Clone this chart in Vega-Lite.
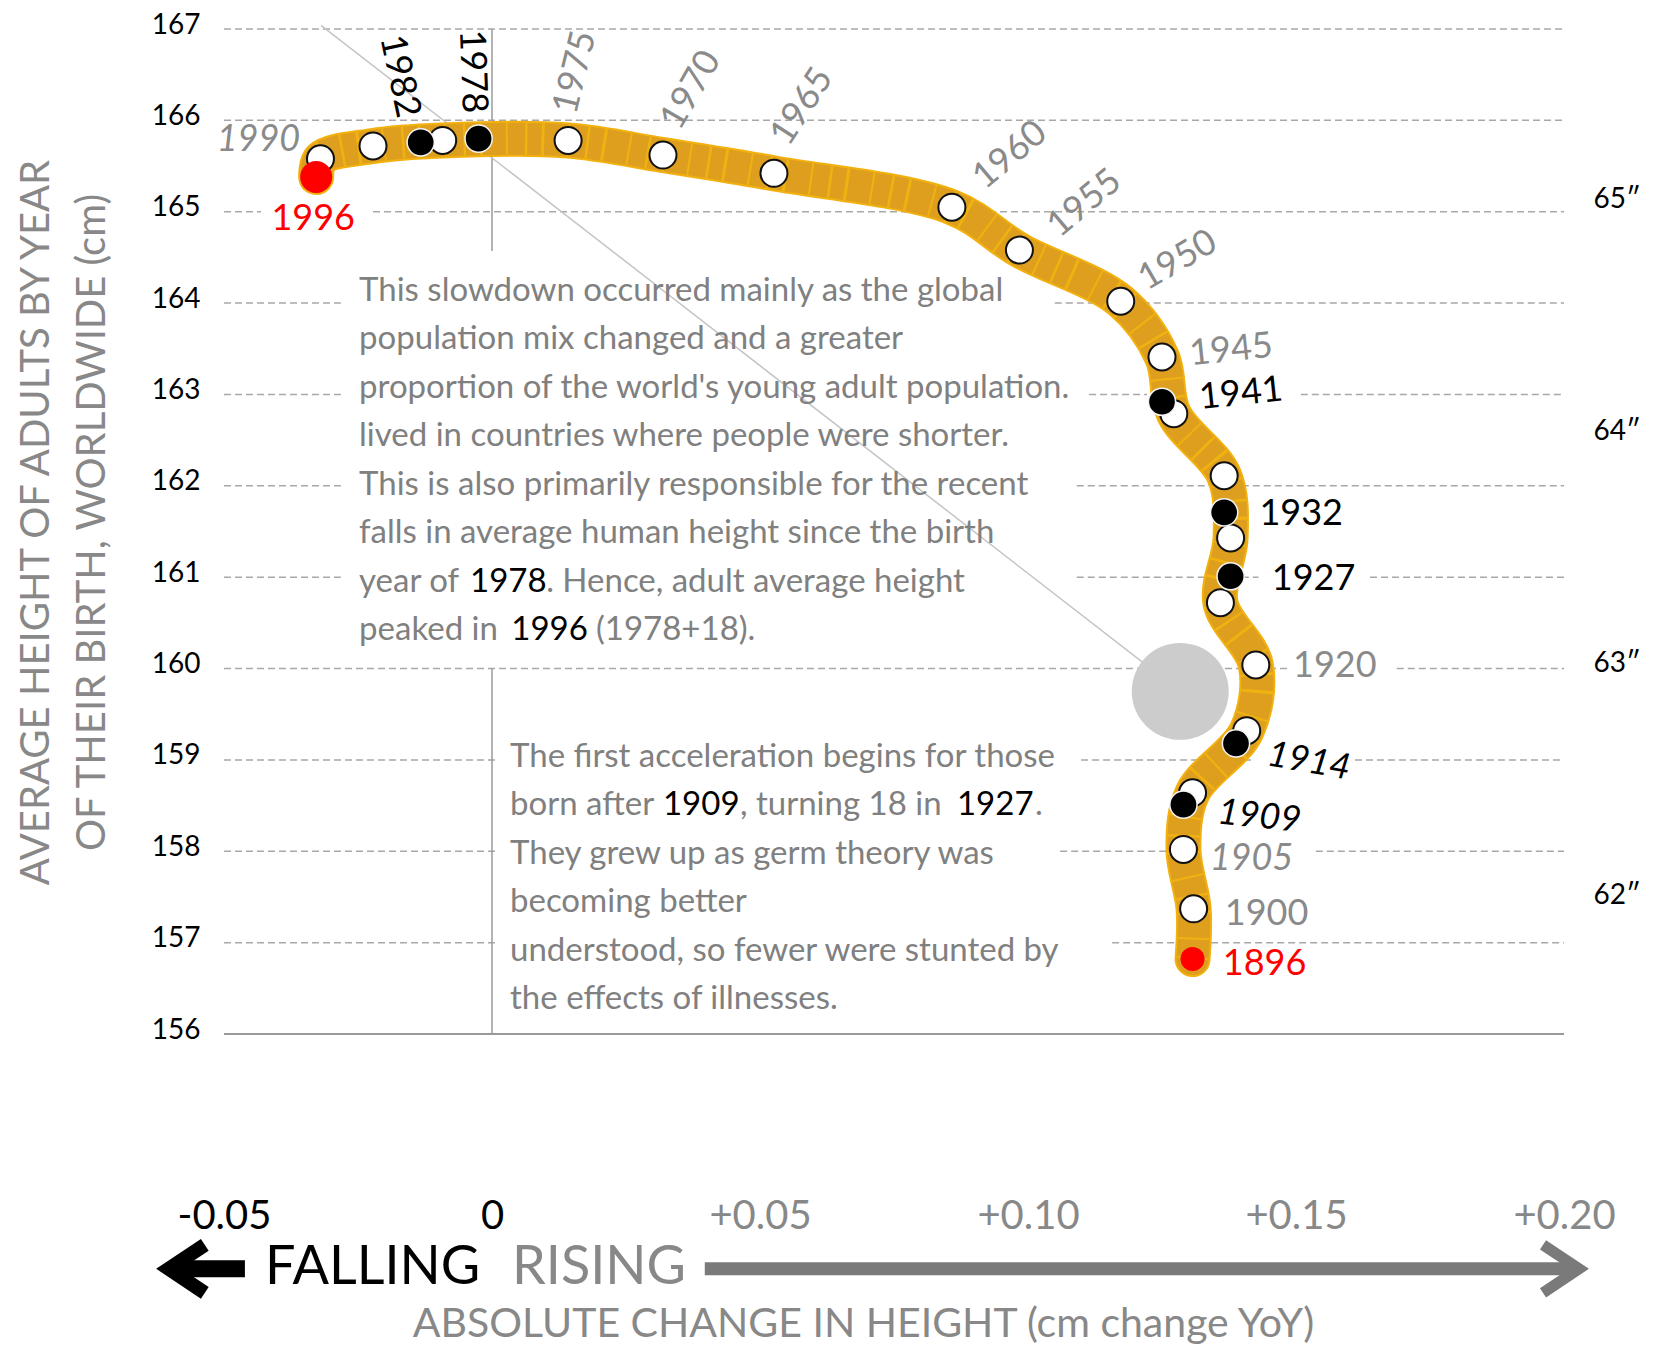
{
  "$schema": "https://vega.github.io/schema/vega-lite/v6.json",
  "width": 1340,
  "height": 1005,
  "autosize": {"type": "none"},
  "padding": {"left": 224, "top": 29, "right": 91, "bottom": 311},
  "background": "white",
  "config": {"view": {"stroke": null}, "font": "Lato"},
  "datasets": {
    "cohorts": [
      {"year": 1896, "change": 0.1307, "height": 156.82, "kind": "endpoint"},
      {"year": 1900, "change": 0.1309, "height": 157.37, "kind": "milestone"},
      {"year": 1905, "change": 0.1290, "height": 158.02, "kind": "milestone"},
      {"year": 1909, "change": 0.1290, "height": 158.51, "kind": "highlight"},
      {"year": 1910, "change": 0.1307, "height": 158.64, "kind": "milestone"},
      {"year": 1914, "change": 0.1388, "height": 159.18, "kind": "highlight"},
      {"year": 1915, "change": 0.1408, "height": 159.32, "kind": "milestone"},
      {"year": 1920, "change": 0.1425, "height": 160.04, "kind": "milestone"},
      {"year": 1925, "change": 0.1359, "height": 160.72, "kind": "milestone"},
      {"year": 1927, "change": 0.1378, "height": 161.01, "kind": "highlight"},
      {"year": 1930, "change": 0.1378, "height": 161.43, "kind": "milestone"},
      {"year": 1932, "change": 0.1366, "height": 161.71, "kind": "highlight"},
      {"year": 1935, "change": 0.1366, "height": 162.11, "kind": "milestone"},
      {"year": 1940, "change": 0.1272, "height": 162.79, "kind": "milestone"},
      {"year": 1941, "change": 0.1250, "height": 162.92, "kind": "highlight"},
      {"year": 1945, "change": 0.1250, "height": 163.41, "kind": "milestone"},
      {"year": 1950, "change": 0.1173, "height": 164.02, "kind": "milestone"},
      {"year": 1955, "change": 0.0984, "height": 164.58, "kind": "milestone"},
      {"year": 1960, "change": 0.0858, "height": 165.05, "kind": "milestone"},
      {"year": 1965, "change": 0.0526, "height": 165.42, "kind": "milestone"},
      {"year": 1970, "change": 0.0319, "height": 165.62, "kind": "milestone"},
      {"year": 1975, "change": 0.0142, "height": 165.78, "kind": "milestone"},
      {"year": 1978, "change": -0.0025, "height": 165.80, "kind": "highlight"},
      {"year": 1980, "change": -0.0092, "height": 165.78, "kind": "milestone"},
      {"year": 1982, "change": -0.0133, "height": 165.76, "kind": "highlight"},
      {"year": 1985, "change": -0.0222, "height": 165.72, "kind": "milestone"},
      {"year": 1990, "change": -0.0320, "height": 165.58, "kind": "milestone"},
      {"year": 1996, "change": -0.0328, "height": 165.38, "kind": "endpoint"}
    ],
    "grid": [
      {"cm": 167, "from": -0.05, "to": 0.2},
      {"cm": 166, "from": -0.05, "to": 0.2},
      {"cm": 165, "from": -0.05, "to": -0.0431},
      {"cm": 165, "from": -0.0222, "to": 0.2},
      {"cm": 164, "from": -0.05, "to": -0.0282},
      {"cm": 164, "from": 0.105, "to": 0.2},
      {"cm": 163, "from": -0.05, "to": -0.0282},
      {"cm": 163, "from": 0.1114, "to": 0.1222},
      {"cm": 163, "from": 0.1509, "to": 0.2},
      {"cm": 162, "from": -0.05, "to": -0.0282},
      {"cm": 162, "from": 0.1091, "to": 0.2},
      {"cm": 161, "from": -0.05, "to": -0.0282},
      {"cm": 161, "from": 0.1091, "to": 0.143},
      {"cm": 161, "from": 0.1638, "to": 0.2},
      {"cm": 160, "from": -0.05, "to": 0.1487},
      {"cm": 160, "from": 0.1688, "to": 0.2},
      {"cm": 159, "from": -0.05, "to": 0.0007},
      {"cm": 159, "from": 0.1099, "to": 0.1416},
      {"cm": 159, "from": 0.161, "to": 0.2},
      {"cm": 158, "from": -0.05, "to": 0.0007},
      {"cm": 158, "from": 0.106, "to": 0.1265},
      {"cm": 158, "from": 0.1537, "to": 0.2},
      {"cm": 157, "from": -0.05, "to": 0.0007},
      {"cm": 157, "from": 0.1157, "to": 0.2}
    ],
    "inches": [
      {"inch": "65″", "cm": 165.1},
      {"inch": "64″", "cm": 162.56},
      {"inch": "63″", "cm": 160.02},
      {"inch": "62″", "cm": 157.48}
    ]
  },
  "data": {"name": "cohorts"},
  "layer": [
    {
      "transform": [{"filter": "datum.kind == 'milestone'"}],
      "mark": {"type": "point", "shape": "circle", "filled": true, "fill": "white", "opacity": 0, "size": 729},
      "encoding": {
        "x": {
          "field": "change", "type": "quantitative",
          "scale": {"domain": [-0.05, 0.2], "nice": false, "zero": false},
          "axis": {
            "values": [-0.05, 0, 0.05, 0.1, 0.15, 0.2],
            "labelExpr": "datum.value == 0 ? '0' : (datum.value > 0 ? '+' : '-') + format(abs(datum.value), '.2f')",
            "labelFont": "Lato", "labelFontSize": 40,
            "labelColor": {"condition": {"test": "datum.value <= 0", "value": "#000000"}, "value": "#888888"},
            "labelPadding": 182, "labelBaseline": "middle",
            "ticks": false, "tickSize": 0, "domain": false, "grid": false,
            "labelFlush": false, "labelOverlap": false, "labelBound": false,
            "title": "ABSOLUTE CHANGE IN HEIGHT (cm change YoY)",
            "titleFont": "Lato", "titleFontSize": 41, "titleFontWeight": "normal", "titleColor": "#888888",
            "titleX": 639, "titleY": 290, "titleBaseline": "middle", "titleAlign": "center"
          }
        },
        "y": {
          "field": "height", "type": "quantitative",
          "scale": {"domain": [156, 167], "nice": false, "zero": false},
          "axis": {
            "values": [156, 157, 158, 159, 160, 161, 162, 163, 164, 165, 166, 167],
            "format": "d",
            "labelFont": "Lato", "labelFontSize": 28, "labelColor": "#000000",
            "labelPadding": 24, "labelOffset": -4, "labelBaseline": "middle",
            "ticks": false, "tickSize": 0, "domain": false, "grid": false,
            "title": ["AVERAGE HEIGHT OF ADULTS BY YEAR", "OF THEIR BIRTH, WORLDWIDE (cm)"],
            "titleFont": "Lato", "titleFontSize": 40, "titleFontWeight": "normal", "titleColor": "#888888",
            "titleLineHeight": 56, "titleX": -208, "titleY": 493, "titleAngle": -90,
            "titleBaseline": "top", "titleAlign": "center"
          }
        }
      }
    },
    {
      "data": {"name": "grid"},
      "mark": {"type": "rule", "color": "#a8a8a8", "strokeWidth": 1.5, "strokeDash": [7, 4]},
      "encoding": {
        "x": {"field": "from", "type": "quantitative"},
        "x2": {"field": "to"},
        "y": {"field": "cm", "type": "quantitative"}
      }
    },
    {
      "data": {"values": [{}]},
      "mark": {"type": "rule", "color": "#999999", "strokeWidth": 2},
      "encoding": {
        "x": {"datum": -0.05, "type": "quantitative"},
        "x2": {"datum": 0.2},
        "y": {"datum": 156, "type": "quantitative"}
      }
    },
    {
      "data": {"values": [{}]},
      "mark": {"type": "rule", "color": "#9a9a9a", "strokeWidth": 1.5},
      "encoding": {
        "x": {"datum": 0, "type": "quantitative"},
        "y": {"datum": 167, "type": "quantitative"},
        "y2": {"datum": 164.57}
      }
    },
    {
      "data": {"values": [{}]},
      "mark": {"type": "rule", "color": "#9a9a9a", "strokeWidth": 1.5},
      "encoding": {
        "x": {"datum": 0, "type": "quantitative"},
        "y": {"datum": 160, "type": "quantitative"},
        "y2": {"datum": 156}
      }
    },
    {
      "data": {"values": [{}]},
      "mark": {"type": "rule", "color": "#c4c4c4", "strokeWidth": 1.5},
      "encoding": {
        "x": {"datum": -0.0319, "type": "quantitative"},
        "y": {"datum": 167.04, "type": "quantitative"},
        "x2": {"datum": 0.1284},
        "y2": {"datum": 159.75}
      }
    },
    {
      "data": {"values": [{}]},
      "mark": {"type": "point", "shape": "circle", "filled": true, "color": "#cccccc", "opacity": 1, "size": 9400},
      "encoding": {
        "x": {"datum": 0.1284, "type": "quantitative"},
        "y": {"datum": 159.75, "type": "quantitative"}
      }
    },
    {
      "transform": [{"filter": "datum.kind != 'highlight'"}],
      "mark": {"type": "line", "interpolate": "catmull-rom", "strokeWidth": 36, "color": "#F2B10E", "strokeCap": "round", "strokeJoin": "round"},
      "encoding": {
        "x": {"field": "change", "type": "quantitative"},
        "y": {"field": "height", "type": "quantitative"},
        "order": {"field": "year", "type": "quantitative"}
      }
    },
    {
      "transform": [{"filter": "datum.kind != 'highlight'"}],
      "mark": {"type": "line", "interpolate": "catmull-rom", "strokeWidth": 32, "color": "#DE9F1F", "strokeCap": "round", "strokeJoin": "round"},
      "encoding": {
        "x": {"field": "change", "type": "quantitative"},
        "y": {"field": "height", "type": "quantitative"},
        "order": {"field": "year", "type": "quantitative"}
      }
    },
    {
      "transform": [{"filter": "datum.kind != 'highlight'"}],
      "mark": {"type": "line", "interpolate": "catmull-rom", "strokeWidth": 32, "color": "#F5B80C", "opacity": 0.75, "strokeDash": [2.5, 17, 2, 23, 3, 14], "strokeCap": "butt"},
      "encoding": {
        "x": {"field": "change", "type": "quantitative"},
        "y": {"field": "height", "type": "quantitative"},
        "order": {"field": "year", "type": "quantitative"}
      }
    },
    {
      "transform": [{"filter": "datum.kind == 'milestone'"}],
      "mark": {"type": "point", "shape": "circle", "filled": true, "fill": "white", "stroke": "#111111", "strokeWidth": 2, "opacity": 1, "size": 729},
      "encoding": {
        "x": {"field": "change", "type": "quantitative"},
        "y": {"field": "height", "type": "quantitative"}
      }
    },
    {
      "transform": [{"filter": "datum.kind == 'highlight'"}],
      "mark": {"type": "point", "shape": "circle", "filled": true, "fill": "black", "stroke": "#f4f4f4", "strokeWidth": 1.5, "opacity": 1, "size": 740},
      "encoding": {
        "x": {"field": "change", "type": "quantitative"},
        "y": {"field": "height", "type": "quantitative"}
      }
    },
    {
      "transform": [{"filter": "datum.kind == 'endpoint'"}],
      "mark": {"type": "point", "shape": "circle", "filled": true, "fill": "#ff0000", "opacity": 1},
      "encoding": {
        "x": {"field": "change", "type": "quantitative"},
        "y": {"field": "height", "type": "quantitative"},
        "size": {"condition": {"test": "datum.year == 1996", "value": 1024}, "value": 576}
      }
    },
    {
      "transform": [{"filter": "datum.year == 1996"}],
      "mark": {"type": "text", "fontSize": 36, "fill": "#ff0000", "align": "center", "baseline": "middle", "dx": -3, "dy": 42},
      "encoding": {
        "x": {"field": "change", "type": "quantitative"},
        "y": {"field": "height", "type": "quantitative"},
        "text": {"field": "year", "type": "nominal"}
      }
    },
    {
      "transform": [{"filter": "datum.year == 1896"}],
      "mark": {"type": "text", "fontSize": 36, "fill": "#ff0000", "align": "center", "baseline": "middle", "dx": 72, "dy": 5},
      "encoding": {
        "x": {"field": "change", "type": "quantitative"},
        "y": {"field": "height", "type": "quantitative"},
        "text": {"field": "year", "type": "nominal"}
      }
    },
    {
      "transform": [{"filter": "datum.year == 1990"}],
      "mark": {"type": "text", "fontSize": 36, "fontStyle": "italic", "fill": "#8a8a8a", "align": "center", "baseline": "middle", "dx": -62, "dy": -19},
      "encoding": {
        "x": {"field": "change", "type": "quantitative"},
        "y": {"field": "height", "type": "quantitative"},
        "text": {"field": "year", "type": "nominal"}
      }
    },
    {
      "transform": [{"filter": "datum.year == 1982"}],
      "mark": {"type": "text", "fontSize": 36, "fill": "#000000", "align": "center", "baseline": "middle", "angle": 78, "dx": -68.9, "dy": 6.8},
      "encoding": {
        "x": {"field": "change", "type": "quantitative"},
        "y": {"field": "height", "type": "quantitative"},
        "text": {"field": "year", "type": "nominal"}
      }
    },
    {
      "transform": [{"filter": "datum.year == 1978"}],
      "mark": {"type": "text", "fontSize": 36, "fill": "#000000", "align": "center", "baseline": "middle", "angle": 88, "dx": -67.2, "dy": 3.7},
      "encoding": {
        "x": {"field": "change", "type": "quantitative"},
        "y": {"field": "height", "type": "quantitative"},
        "text": {"field": "year", "type": "nominal"}
      }
    },
    {
      "transform": [{"filter": "datum.year == 1975"}],
      "mark": {"type": "text", "fontSize": 36, "fill": "#8a8a8a", "align": "center", "baseline": "middle", "angle": -76, "dx": 67.7, "dy": -9.7},
      "encoding": {
        "x": {"field": "change", "type": "quantitative"},
        "y": {"field": "height", "type": "quantitative"},
        "text": {"field": "year", "type": "nominal"}
      }
    },
    {
      "transform": [{"filter": "datum.year == 1970"}],
      "mark": {"type": "text", "fontSize": 36, "fill": "#8a8a8a", "align": "center", "baseline": "middle", "angle": -60, "dx": 70.3, "dy": -8.3},
      "encoding": {
        "x": {"field": "change", "type": "quantitative"},
        "y": {"field": "height", "type": "quantitative"},
        "text": {"field": "year", "type": "nominal"}
      }
    },
    {
      "transform": [{"filter": "datum.year == 1965"}],
      "mark": {"type": "text", "fontSize": 36, "fill": "#8a8a8a", "align": "center", "baseline": "middle", "angle": -57, "dx": 71.4, "dy": -13},
      "encoding": {
        "x": {"field": "change", "type": "quantitative"},
        "y": {"field": "height", "type": "quantitative"},
        "text": {"field": "year", "type": "nominal"}
      }
    },
    {
      "transform": [{"filter": "datum.year == 1960"}],
      "mark": {"type": "text", "fontSize": 36, "fill": "#8a8a8a", "align": "center", "baseline": "middle", "angle": -40, "dx": 77.9, "dy": -2.6},
      "encoding": {
        "x": {"field": "change", "type": "quantitative"},
        "y": {"field": "height", "type": "quantitative"},
        "text": {"field": "year", "type": "nominal"}
      }
    },
    {
      "transform": [{"filter": "datum.year == 1955"}],
      "mark": {"type": "text", "fontSize": 36, "fill": "#8a8a8a", "align": "center", "baseline": "middle", "angle": -40, "dx": 80, "dy": 5.8},
      "encoding": {
        "x": {"field": "change", "type": "quantitative"},
        "y": {"field": "height", "type": "quantitative"},
        "text": {"field": "year", "type": "nominal"}
      }
    },
    {
      "transform": [{"filter": "datum.year == 1950"}],
      "mark": {"type": "text", "fontSize": 36, "fill": "#8a8a8a", "align": "center", "baseline": "middle", "angle": -30, "dx": 69.9, "dy": -7},
      "encoding": {
        "x": {"field": "change", "type": "quantitative"},
        "y": {"field": "height", "type": "quantitative"},
        "text": {"field": "year", "type": "nominal"}
      }
    },
    {
      "transform": [{"filter": "datum.year == 1945"}],
      "mark": {"type": "text", "fontSize": 36, "fill": "#8a8a8a", "align": "center", "baseline": "middle", "angle": -6, "dx": 69.4, "dy": 0.3},
      "encoding": {
        "x": {"field": "change", "type": "quantitative"},
        "y": {"field": "height", "type": "quantitative"},
        "text": {"field": "year", "type": "nominal"}
      }
    },
    {
      "transform": [{"filter": "datum.year == 1941"}],
      "mark": {"type": "text", "fontSize": 36, "fill": "#000000", "align": "center", "baseline": "middle", "angle": -6, "dx": 79.4, "dy": 0.3},
      "encoding": {
        "x": {"field": "change", "type": "quantitative"},
        "y": {"field": "height", "type": "quantitative"},
        "text": {"field": "year", "type": "nominal"}
      }
    },
    {
      "transform": [{"filter": "datum.year == 1932"}],
      "mark": {"type": "text", "fontSize": 36, "fill": "#000000", "align": "center", "baseline": "middle", "dx": 77, "dy": 2},
      "encoding": {
        "x": {"field": "change", "type": "quantitative"},
        "y": {"field": "height", "type": "quantitative"},
        "text": {"field": "year", "type": "nominal"}
      }
    },
    {
      "transform": [{"filter": "datum.year == 1927"}],
      "mark": {"type": "text", "fontSize": 36, "fill": "#000000", "align": "center", "baseline": "middle", "dx": 83, "dy": 3},
      "encoding": {
        "x": {"field": "change", "type": "quantitative"},
        "y": {"field": "height", "type": "quantitative"},
        "text": {"field": "year", "type": "nominal"}
      }
    },
    {
      "transform": [{"filter": "datum.year == 1920"}],
      "mark": {"type": "text", "fontSize": 36, "fill": "#8a8a8a", "align": "center", "baseline": "middle", "dx": 79, "dy": 1},
      "encoding": {
        "x": {"field": "change", "type": "quantitative"},
        "y": {"field": "height", "type": "quantitative"},
        "text": {"field": "year", "type": "nominal"}
      }
    },
    {
      "transform": [{"filter": "datum.year == 1914"}],
      "mark": {"type": "text", "fontSize": 36, "fontStyle": "italic", "fill": "#000000", "align": "center", "baseline": "middle", "angle": 10, "dx": 75, "dy": 5.1},
      "encoding": {
        "x": {"field": "change", "type": "quantitative"},
        "y": {"field": "height", "type": "quantitative"},
        "text": {"field": "year", "type": "nominal"}
      }
    },
    {
      "transform": [{"filter": "datum.year == 1909"}],
      "mark": {"type": "text", "fontSize": 36, "fontStyle": "italic", "fill": "#000000", "align": "center", "baseline": "middle", "angle": 6, "dx": 76.8, "dy": 4},
      "encoding": {
        "x": {"field": "change", "type": "quantitative"},
        "y": {"field": "height", "type": "quantitative"},
        "text": {"field": "year", "type": "nominal"}
      }
    },
    {
      "transform": [{"filter": "datum.year == 1905"}],
      "mark": {"type": "text", "fontSize": 36, "fontStyle": "italic", "fill": "#8a8a8a", "align": "center", "baseline": "middle", "dx": 68, "dy": 10},
      "encoding": {
        "x": {"field": "change", "type": "quantitative"},
        "y": {"field": "height", "type": "quantitative"},
        "text": {"field": "year", "type": "nominal"}
      }
    },
    {
      "transform": [{"filter": "datum.year == 1900"}],
      "mark": {"type": "text", "fontSize": 36, "fill": "#8a8a8a", "align": "center", "baseline": "middle", "dx": 73, "dy": 5},
      "encoding": {
        "x": {"field": "change", "type": "quantitative"},
        "y": {"field": "height", "type": "quantitative"},
        "text": {"field": "year", "type": "nominal"}
      }
    },
    {
      "data": {"name": "inches"},
      "mark": {"type": "text", "fontSize": 28, "fill": "#000000", "align": "center", "baseline": "middle", "dy": -3},
      "encoding": {
        "x": {"datum": 0.2099, "type": "quantitative"},
        "y": {"field": "cm", "type": "quantitative"},
        "text": {"field": "inch", "type": "nominal"}
      }
    },
    {
      "data": {"values": [{}]},
      "mark": {"type": "text", "fontSize": 33, "fill": "#808080", "align": "left", "baseline": "alphabetic", "lineHeight": 48.5,
        "text": ["This slowdown occurred mainly as the global", "population mix changed and a greater", "proportion of the world's young adult population.", "lived in countries where people were shorter.", "This is also primarily responsible for the recent", "falls in average human height since the birth"]},
      "encoding": {
        "x": {"datum": -0.0248, "type": "quantitative"},
        "y": {"datum": 164.026, "type": "quantitative"}
      }
    },
    {
      "data": {"values": [{}]},
      "mark": {"type": "text", "fontSize": 33, "fill": "#808080", "align": "left", "baseline": "alphabetic", "text": "year of"},
      "encoding": {
        "x": {"datum": -0.0248, "type": "quantitative"},
        "y": {"datum": 160.841, "type": "quantitative"}
      }
    },
    {
      "data": {"values": [{}]},
      "mark": {"type": "text", "fontSize": 33, "fill": "#000000", "align": "left", "baseline": "alphabetic", "text": "1978"},
      "encoding": {
        "x": {"datum": -0.0041, "type": "quantitative"},
        "y": {"datum": 160.841, "type": "quantitative"}
      }
    },
    {
      "data": {"values": [{}]},
      "mark": {"type": "text", "fontSize": 33, "fill": "#808080", "align": "left", "baseline": "alphabetic", "text": ". Hence, adult average height"},
      "encoding": {
        "x": {"datum": 0.0101, "type": "quantitative"},
        "y": {"datum": 160.841, "type": "quantitative"}
      }
    },
    {
      "data": {"values": [{}]},
      "mark": {"type": "text", "fontSize": 33, "fill": "#808080", "align": "left", "baseline": "alphabetic", "text": "peaked in"},
      "encoding": {
        "x": {"datum": -0.0248, "type": "quantitative"},
        "y": {"datum": 160.31, "type": "quantitative"}
      }
    },
    {
      "data": {"values": [{}]},
      "mark": {"type": "text", "fontSize": 33, "fill": "#000000", "align": "left", "baseline": "alphabetic", "text": "1996"},
      "encoding": {
        "x": {"datum": 0.0036, "type": "quantitative"},
        "y": {"datum": 160.31, "type": "quantitative"}
      }
    },
    {
      "data": {"values": [{}]},
      "mark": {"type": "text", "fontSize": 33, "fill": "#808080", "align": "left", "baseline": "alphabetic", "text": "(1978+18)."},
      "encoding": {
        "x": {"datum": 0.0194, "type": "quantitative"},
        "y": {"datum": 160.31, "type": "quantitative"}
      }
    },
    {
      "data": {"values": [{}]},
      "mark": {"type": "text", "fontSize": 33, "fill": "#808080", "align": "left", "baseline": "alphabetic", "text": "The first acceleration begins for those"},
      "encoding": {
        "x": {"datum": 0.00336, "type": "quantitative"},
        "y": {"datum": 158.925, "type": "quantitative"}
      }
    },
    {
      "data": {"values": [{}]},
      "mark": {"type": "text", "fontSize": 33, "fill": "#808080", "align": "left", "baseline": "alphabetic", "text": "born after"},
      "encoding": {
        "x": {"datum": 0.00336, "type": "quantitative"},
        "y": {"datum": 158.394, "type": "quantitative"}
      }
    },
    {
      "data": {"values": [{}]},
      "mark": {"type": "text", "fontSize": 33, "fill": "#000000", "align": "left", "baseline": "alphabetic", "text": "1909"},
      "encoding": {
        "x": {"datum": 0.0319, "type": "quantitative"},
        "y": {"datum": 158.394, "type": "quantitative"}
      }
    },
    {
      "data": {"values": [{}]},
      "mark": {"type": "text", "fontSize": 33, "fill": "#808080", "align": "left", "baseline": "alphabetic", "text": ", turning 18 in"},
      "encoding": {
        "x": {"datum": 0.04627, "type": "quantitative"},
        "y": {"datum": 158.394, "type": "quantitative"}
      }
    },
    {
      "data": {"values": [{}]},
      "mark": {"type": "text", "fontSize": 33, "fill": "#000000", "align": "left", "baseline": "alphabetic", "text": "1927"},
      "encoding": {
        "x": {"datum": 0.08675, "type": "quantitative"},
        "y": {"datum": 158.394, "type": "quantitative"}
      }
    },
    {
      "data": {"values": [{}]},
      "mark": {"type": "text", "fontSize": 33, "fill": "#808080", "align": "left", "baseline": "alphabetic", "text": "."},
      "encoding": {
        "x": {"datum": 0.10131, "type": "quantitative"},
        "y": {"datum": 158.394, "type": "quantitative"}
      }
    },
    {
      "data": {"values": [{}]},
      "mark": {"type": "text", "fontSize": 33, "fill": "#808080", "align": "left", "baseline": "alphabetic", "lineHeight": 48.5,
        "text": ["They grew up as germ theory was", "becoming better", "understood, so fewer were stunted by", "the effects of illnesses."]},
      "encoding": {
        "x": {"datum": 0.00336, "type": "quantitative"},
        "y": {"datum": 157.864, "type": "quantitative"}
      }
    },
    {
      "data": {"values": [{}]},
      "mark": {"type": "rule", "color": "#7a7a7a", "strokeWidth": 13},
      "encoding": {
        "x": {"datum": 0.0397, "type": "quantitative"},
        "x2": {"datum": 0.2020},
        "y": {"datum": 153.43, "type": "quantitative"}
      }
    },
    {
      "data": {"values": [{}]},
      "mark": {"type": "point", "shape": "M -1.5 -1 L 0 0 L -1.5 1", "filled": false, "stroke": "#7a7a7a", "strokeWidth": 11, "strokeJoin": "miter", "strokeMiterLimit": 10, "opacity": 1, "size": 2304},
      "encoding": {
        "x": {"datum": 0.2028, "type": "quantitative"},
        "y": {"datum": 153.43, "type": "quantitative"}
      }
    },
    {
      "data": {"values": [{}]},
      "mark": {"type": "rule", "color": "#000000", "strokeWidth": 17},
      "encoding": {
        "x": {"datum": -0.0598, "type": "quantitative"},
        "x2": {"datum": -0.0461},
        "y": {"datum": 153.43, "type": "quantitative"}
      }
    },
    {
      "data": {"values": [{}]},
      "mark": {"type": "point", "shape": "M 1.5 -1 L 0 0 L 1.5 1", "filled": false, "stroke": "#000000", "strokeWidth": 14, "strokeJoin": "miter", "strokeMiterLimit": 10, "opacity": 1, "size": 2304},
      "encoding": {
        "x": {"datum": -0.0603, "type": "quantitative"},
        "y": {"datum": 153.43, "type": "quantitative"}
      }
    },
    {
      "data": {"values": [{}]},
      "mark": {"type": "text", "fontSize": 54, "fill": "#000000", "align": "left", "baseline": "middle", "text": "FALLING"},
      "encoding": {
        "x": {"datum": -0.04235, "type": "quantitative"},
        "y": {"datum": 153.44, "type": "quantitative"}
      }
    },
    {
      "data": {"values": [{}]},
      "mark": {"type": "text", "fontSize": 54, "fill": "#888888", "align": "left", "baseline": "middle", "text": "RISING"},
      "encoding": {
        "x": {"datum": 0.00373, "type": "quantitative"},
        "y": {"datum": 153.44, "type": "quantitative"}
      }
    }
  ]
}
